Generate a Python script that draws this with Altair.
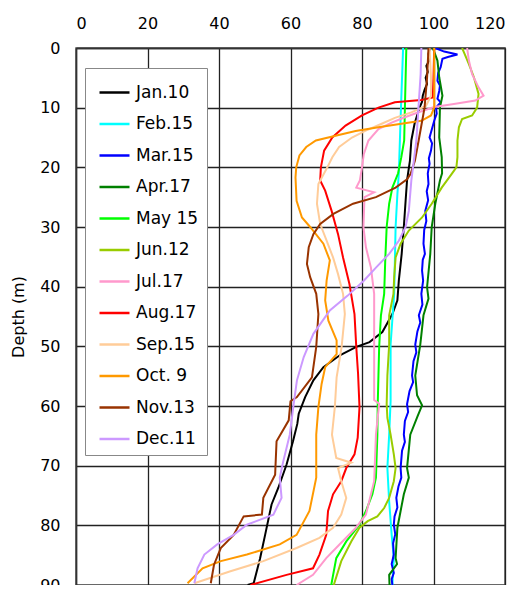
import altair as alt
import pandas as pd

SERIES = ["Jan.10", "Feb.15", "Mar.15", "Apr.17", "May 15", "Jun.12",
          "Jul.17", "Aug.17", "Sep.15", "Oct. 9", "Nov.13", "Dec.11"]
COLORS = ["#000000", "#00FFFF", "#0000FF", "#008000", "#00FF00", "#99CC00",
          "#FF99CC", "#FF0000", "#FFCC99", "#FF9900", "#993300", "#CC99FF"]
X_TICKS = [0, 20, 40, 60, 80, 100, 120]
Y_TICKS = [0, 10, 20, 30, 40, 50, 60, 70, 80, 90]

jan_depth = [0, 1, 2, 3, 4, 5, 6, 7, 8, 9, 10, 12.7, 15.5, 18.9, 22.2, 25.6, 30, 34.5, 39, 42.3, 44.6, 47.6, 49.3, 50.1, 51.5, 53.5, 55.7, 58.5, 61.3, 63, 65.9, 69.8, 73.7, 76.5, 81.6, 85.5, 89.7, 90]
jan_temp = [99, 98.6, 98.9, 98, 98.4, 97.8, 98.2, 97.5, 97, 96.8, 96.1, 94.7, 93.8, 93.4, 92.6, 92.2, 91.7, 91.1, 90.3, 89.9, 88.5, 85.7, 82.1, 78.4, 73.8, 69.2, 66.4, 64.1, 62.3, 61.9, 60.7, 58.9, 56.6, 54.7, 52.9, 51.5, 49.7, 48]

feb_depth = [0, 10, 15.5, 21, 24.5, 30, 35.6, 41.2, 49.7, 59.2, 64.8, 70.4, 76, 81.6, 85.5, 90]
feb_temp = [91.5, 90.9, 90.6, 90.3, 89.9, 89.4, 89.2, 89, 88, 88, 87.6, 87.1, 87.6, 88.3, 88.9, 88.5]

mar_depth = [0, 0.6, 1.1, 1.5, 1.8, 3.2, 4.2, 5.5, 6.3, 7.2, 8.5, 9.1, 10, 11, 12.2, 13.5, 15, 16, 17.2, 18.5, 19.4, 21, 22.8, 24, 25.5, 27.3, 29, 30.5, 32.8, 34.5, 35.5, 37.3, 39, 41.2, 43, 44.8, 46, 47.5, 49.7, 51, 52.5, 54.9, 56, 57.5, 59.7, 61, 62.5, 64.8, 66, 67.5, 70.4, 72, 73.5, 75.4, 77, 78.5, 79.9, 81.5, 83, 84.9, 86.5, 88, 89, 90]
mar_temp = [100.5, 103, 106.7, 104, 102.5, 102, 101.3, 101.1, 101.8, 101.6, 101.1, 102, 100.7, 100.9, 100.2, 99.6, 98.9, 99.6, 99.3, 98.7, 98.9, 98.4, 98.6, 98.1, 98.5, 97.7, 98, 97.4, 97.2, 97.6, 97.0, 96.8, 97.1, 96.6, 96.9, 95.9, 96.3, 95.5, 94.9, 95.2, 94.4, 94, 94.3, 93.3, 92.6, 92.9, 92.0, 91.7, 92.0, 91.2, 90.8, 91.0, 90.2, 89.6, 89.9, 89.1, 88.9, 89.3, 88.7, 88.9, 88.3, 88.9, 88.3, 88.5]

apr_depth = [0, 2.1, 4.9, 8, 10, 15, 18.3, 21, 22.2, 26.1, 30, 34.5, 40.1, 42, 44.8, 49.7, 54.9, 58.2, 59.9, 61.8, 64.8, 70.4, 72, 74.8, 77.6, 80.4, 85.5, 86.5, 88.3, 90]
apr_temp = [99.8, 101.1, 101.6, 102.5, 101.8, 101.6, 102.3, 102.4, 101.8, 100.5, 99.5, 99.1, 98.2, 98.6, 97.2, 96.3, 94.9, 95.4, 96.8, 95.5, 93.5, 92.6, 93.1, 91.7, 90.8, 89.9, 89.4, 89.8, 87.6, 87.7]

may_depth = [0, 10, 15.5, 18.3, 21, 23.4, 26.1, 30, 35.6, 41.2, 44.8, 50.1, 54.9, 59.7, 64.8, 72, 74.8, 77.6, 79.9, 82.7, 85.5, 90]
may_temp = [92.4, 92, 91.8, 91, 90.1, 88.5, 87.6, 86.9, 86.5, 86.2, 85.3, 84.8, 84.6, 84.4, 84.3, 83.9, 82.9, 81.1, 79.3, 75.6, 72.8, 71.4]

jun_depth = [0, 1, 2.7, 4.9, 7.7, 10, 11.3, 11.9, 13.3, 15.5, 18.3, 20, 21.1, 23.4, 26.1, 28.4, 30.6, 32.8, 35.1, 38.4, 41.2, 44.8, 49.7, 54.9, 59.7, 62, 64.8, 68.1, 70.4, 72.6, 75.4, 77.1, 78.5, 79.3, 80.4, 82.7, 86, 90]
jun_temp = [108, 108.7, 109.9, 111.3, 112.6, 112.2, 110.8, 108, 107.1, 106.7, 106.7, 106.4, 105.1, 102.3, 99.5, 96.8, 93.1, 90.8, 89.4, 89, 88.8, 87.6, 87.6, 87.1, 86.9, 87.1, 88, 88.9, 89.4, 88.9, 87.6, 86.2, 84.3, 81.6, 79.3, 77, 74.2, 72.1]

jul_depth = [0, 2.1, 4.4, 6.6, 8, 8.8, 9.4, 9.9, 10.8, 11.6, 12.5, 13.6, 15.5, 17.8, 20, 22.2, 23.4, 24.2, 25, 30, 33.4, 36.8, 41.2, 50, 59, 59.6, 64.8, 72.6, 78.2, 80.4, 83.2, 85.5, 88.3, 90]
jul_temp = [109.4, 109.9, 110.8, 112.6, 114, 111.7, 105.7, 100.2, 95.6, 92, 88.3, 84.6, 81.8, 80.5, 80, 79.4, 78.4, 83.4, 80.7, 80.4, 81.1, 82.5, 83.4, 83.4, 83.4, 84.8, 83.9, 83.4, 81.1, 78.3, 73.7, 70, 66.3, 61.7]

aug_depth = [0, 5, 8.3, 8.7, 9.1, 10, 11.3, 13, 15, 17.2, 20, 22.2, 23.9, 27.3, 31.2, 35.1, 39.6, 44.6, 50.1, 54.6, 60.2, 65.3, 68.1, 70.4, 72.6, 74.8, 77.6, 81.6, 84.9, 87.2, 88.3, 90]
aug_temp = [100.2, 100, 99.8, 96.6, 89.2, 84.6, 80, 75.4, 71.7, 69.4, 68.5, 68.3, 69.7, 71.5, 73.3, 74.7, 76.5, 77.9, 78.4, 78.9, 79.3, 78.8, 77.9, 75.6, 74.2, 71.9, 70.5, 70, 68.1, 66.3, 58.9, 48.8]

sep_depth = [0, 5, 8, 9.7, 10.8, 11.7, 12.7, 13.9, 15, 16.6, 18.3, 20, 22.8, 26.1, 29.5, 32.3, 35.1, 37.9, 41.2, 44.6, 50.1, 55.2, 60.2, 64.8, 68.7, 69.5, 70.4, 72.6, 75.4, 78.2, 80.4, 82.1, 83.8, 86, 87.7, 89.7]
sep_temp = [98.9, 99.3, 99.3, 97.9, 93.8, 89.2, 85.5, 80.9, 77.2, 73.6, 71.7, 70.3, 67.8, 67.4, 68.3, 70.1, 71.9, 73.3, 74.7, 75.2, 74.3, 72.9, 72.4, 71.6, 72.8, 77, 73.3, 74.2, 75.6, 74.2, 71.9, 68.1, 61.7, 52.4, 43.2, 33.1]

oct_depth = [0, 10, 11.3, 12.2, 12.7, 13.3, 13.9, 14.7, 15.5, 16.6, 18, 20, 21.7, 25.6, 28.4, 30, 32.8, 35.6, 39, 42.3, 45.7, 49, 51.3, 53.5, 56.3, 60.2, 64.8, 72, 77.6, 81.6, 83.2, 84.9, 86, 87.2, 89.7]
oct_temp = [100.2, 100.2, 99.3, 96.6, 91, 84.6, 78.2, 72.6, 67.1, 64.4, 62.5, 61.6, 61.4, 61.7, 63.2, 65.5, 69.2, 71, 70.1, 69.7, 70.6, 72.9, 72.9, 69.7, 68.7, 67.8, 67.2, 67.2, 65.3, 61.7, 57, 47.8, 40.5, 35.4, 31.2]

nov_depth = [0, 5, 10, 15, 18.9, 21.1, 22, 23.4, 25, 26.1, 27.8, 29.5, 31.2, 33.4, 36.2, 38.4, 41.2, 44.6, 50.1, 55.2, 58.5, 59.2, 62.4, 65.9, 71.5, 75.4, 78.2, 78.5, 81.6, 83.8, 86.6, 89.7]
nov_temp = [98.6, 98.2, 97.5, 96, 94.8, 93.6, 92.6, 89.4, 83.9, 77.5, 72, 68.3, 66.4, 65.1, 64.6, 65.5, 67.2, 67.8, 67.2, 66, 61.8, 60, 59.5, 56.1, 55.7, 52.4, 52, 46.9, 44.1, 40.5, 38.6, 37.7]

dec_depth = [0, 4.4, 10, 15.5, 18.9, 22.2, 27.3, 30, 32.3, 34.5, 36.8, 39, 41.5, 44, 47.9, 51.8, 55.7, 59.6, 64.8, 69.2, 72, 75.4, 78.2, 79.9, 81.6, 83.2, 84.9, 87.2, 89.7]
dec_temp = [96.6, 96.4, 95.8, 95.2, 94.5, 93.8, 93.1, 92.2, 90.3, 87.6, 83.9, 80.5, 76, 71, 66.4, 63.7, 61.8, 60.9, 59.8, 58, 57, 57.5, 55.2, 47.8, 44.1, 39.5, 35.9, 34, 33.1]

DEPTHS = [jan_depth, feb_depth, mar_depth, apr_depth, may_depth, jun_depth,
          jul_depth, aug_depth, sep_depth, oct_depth, nov_depth, dec_depth]
TEMPS = [jan_temp, feb_temp, mar_temp, apr_temp, may_temp, jun_temp,
         jul_temp, aug_temp, sep_temp, oct_temp, nov_temp, dec_temp]

rows = []
for name, ds, vs in zip(SERIES, DEPTHS, TEMPS):
    for i, (d, v) in enumerate(zip(ds, vs)):
        rows.append({"series": name, "depth": d, "value": v, "idx": i})
df = pd.DataFrame(rows)

FONT = "DejaVu Sans"

chart = alt.Chart(df).mark_line(strokeWidth=2, clip=True).encode(
    x=alt.X("value:Q",
            scale=alt.Scale(domain=[0, 120], nice=False, zero=False),
            axis=alt.Axis(orient="top", values=X_TICKS, title=None,
                          labelPadding=17, tickSize=0, grid=True)),
    y=alt.Y("depth:Q",
            scale=alt.Scale(domain=[0, 90], reverse=True, nice=False),
            axis=alt.Axis(values=Y_TICKS, title="Depth (m)", labelPadding=16,
                          tickSize=0, grid=True, titlePadding=13)),
    color=alt.Color("series:N",
                    scale=alt.Scale(domain=SERIES, range=COLORS),
                    sort=SERIES,
                    legend=alt.Legend(title=None, orient="none", legendX=9, legendY=20,
                                      fillColor="white", strokeColor="#888888",
                                      padding=8, symbolType="stroke", symbolSize=900,
                                      symbolStrokeWidth=2.5, symbolOffset=5,
                                      labelOffset=5, rowPadding=6.5,
                                      labelExpr="datum.label + '\u00a0'",
                                      labelFont=FONT, labelFontSize=17,
                                      labelColor="black")),
    order=alt.Order("idx:Q"),
).properties(
    width=429, height=537,
    autosize=alt.AutoSizeParams(type="none"),
    padding={"left": 68, "top": 40, "right": 16, "bottom": 0},
).configure_view(
    stroke="#555555", strokeWidth=1.5
).configure_axis(
    gridColor="#222222", gridWidth=1.3, gridOpacity=1,
    domainColor="#333333", domainWidth=1.5,
    labelFont=FONT, labelFontSize=16, labelColor="black",
    titleFont=FONT, titleFontSize=16, titleFontWeight="normal", titleColor="black",
)

chart.save("out.html", embed_options={"renderer": "svg", "actions": False})
